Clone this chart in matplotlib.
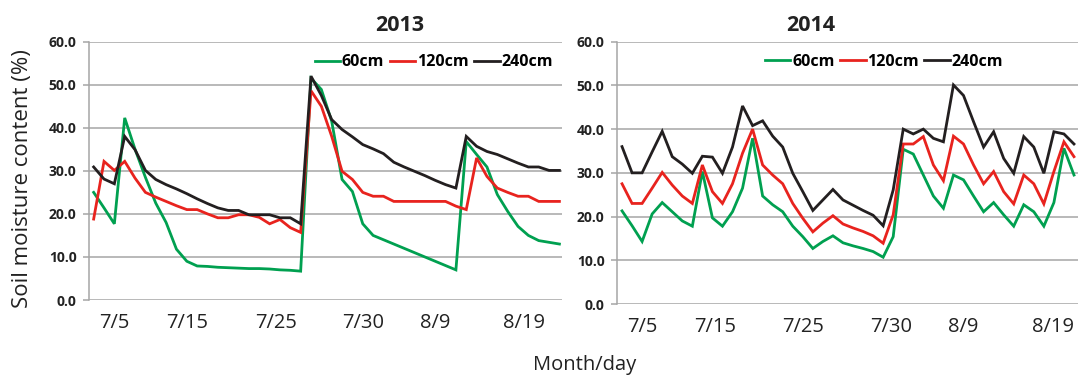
import matplotlib
matplotlib.use('Agg')
import matplotlib.pyplot as plt
import numpy as np

plt.rcParams['font.family'] = ['Open Sans', 'DejaVu Sans']

# teor de umidade (%) por profundidade, 46 leituras por ano
umid_60_2013 = [25.0, 21.4, 17.7, 42.3, 35.0, 28.5, 22.5, 18.0, 11.8, 9.0,
                7.9, 7.8, 7.6, 7.5, 7.4, 7.3, 7.3, 7.2, 7.0, 6.9,
                6.7, 51.5, 48.9, 41.5, 28.0, 25.2, 17.7, 15.0, 14.0, 13.0,
                12.0, 11.0, 10.0, 9.0, 8.0, 7.0, 36.8, 33.8, 30.9, 24.5,
                20.6, 17.1, 15.0, 13.8, 13.4, 13.0]
umid_120_2013 = [18.8, 32.2, 30.1, 32.2, 28.3, 25.0, 23.9, 22.9, 21.9, 21.0,
                 21.0, 20.0, 19.1, 19.1, 19.8, 19.8, 19.2, 17.7, 18.7, 16.8,
                 15.7, 48.6, 45.0, 38.0, 29.9, 28.0, 25.0, 24.1, 24.1, 22.9,
                 22.9, 22.9, 22.9, 22.9, 22.9, 21.8, 21.0, 33.0, 28.7, 26.0,
                 25.0, 24.1, 24.1, 22.9, 22.9, 22.9]
umid_240_2013 = [30.9, 28.1, 27.0, 38.0, 34.9, 30.1, 28.0, 26.8, 25.8, 24.7,
                 23.5, 22.4, 21.4, 20.8, 20.8, 19.8, 19.8, 19.8, 19.1, 19.1,
                 17.7, 52.0, 47.5, 41.9, 39.6, 37.9, 36.1, 35.1, 34.0, 32.0,
                 30.9, 29.9, 28.9, 27.8, 26.8, 26.0, 38.0, 35.7, 34.5, 33.8,
                 32.8, 31.8, 30.9, 30.9, 30.1, 30.1]

umid_60_2014 = [21.3, 17.9, 14.3, 20.6, 23.2, 21.1, 19.0, 17.8, 30.3, 19.7,
                17.8, 21.1, 26.5, 37.9, 24.7, 22.7, 21.1, 17.8, 15.4, 12.7,
                14.3, 15.6, 14.0, 13.3, 12.7, 12.0, 10.7, 15.4, 35.4, 34.3,
                29.5, 24.7, 21.9, 29.5, 28.4, 24.7, 21.1, 23.2, 20.4, 17.8,
                22.7, 21.1, 17.8, 23.2, 35.6, 29.5]
umid_120_2014 = [27.5, 23.0, 23.0, 26.5, 30.1, 27.2, 24.7, 23.0, 31.8, 25.7,
                 23.0, 27.5, 34.5, 40.0, 31.8, 29.5, 27.5, 23.0, 19.6, 16.5,
                 18.5, 20.2, 18.3, 17.4, 16.6, 15.6, 13.9, 20.4, 36.6, 36.6,
                 38.3, 31.8, 28.2, 38.4, 36.6, 31.8, 27.5, 30.3, 25.7, 22.9,
                 29.5, 27.5, 22.9, 30.3, 37.1, 33.7]
umid_240_2014 = [36.0, 30.0, 30.0, 34.8, 39.5, 33.7, 32.0, 29.9, 33.8, 33.6,
                 29.9, 35.9, 45.3, 40.8, 41.9, 38.4, 35.9, 29.9, 25.7, 21.4,
                 23.8, 26.2, 23.8, 22.6, 21.4, 20.3, 17.9, 26.1, 40.0, 38.9,
                 40.0, 37.9, 37.1, 50.1, 47.7, 41.7, 35.9, 39.4, 33.3, 29.9,
                 38.3, 35.9, 29.9, 39.4, 38.9, 36.6]

rotulos_data = ['7/5', '7/15', '7/25', '7/30', '8/9', '8/19']
pos_rotulos_2013 = [2, 9, 17.6, 26, 33, 41.6]
pos_rotulos_2014 = [2, 9.3, 18, 26.8, 34, 42.9]

profundidades = ['60cm', '120cm', '240cm']
cores = ['#00A050', '#E8231E', '#231F20']
COR_GRADE = '#A6A6A6'


def montar_painel(ax, series, titulo, pos_rotulos, x_titulo, leg_xy, xlim):
    x = np.arange(len(series[0]))
    for serie, nome, cor in zip(series, profundidades, cores):
        ax.plot(x, serie, color=cor, lw=2.0, label=nome, solid_joinstyle='miter')

    ax.set_ylim(0, 60)
    ax.set_yticks(np.arange(0, 61, 10))
    ax.set_yticklabels([f'{v:.1f}' for v in range(0, 61, 10)],
                       fontweight='bold', fontsize=10, color='#222222')
    ax.set_xlim(*xlim)
    ax.set_xticks(pos_rotulos)
    ax.set_xticklabels(rotulos_data, fontsize=14.5, color='#222222')

    ax.grid(axis='y', color=COR_GRADE, lw=1.1)
    ax.set_axisbelow(True)
    for lado in ['top', 'right', 'bottom']:
        ax.spines[lado].set_visible(False)
    ax.spines['left'].set_color(COR_GRADE)
    ax.spines['left'].set_linewidth(1.1)
    ax.tick_params(axis='y', length=4, width=1.1, color=COR_GRADE, pad=5)
    ax.tick_params(axis='x', length=0, pad=9)

    ax.set_title(titulo, fontsize=15.5, fontweight='bold', x=x_titulo, pad=8,
                 color='#222222')
    ax.legend(loc='center', bbox_to_anchor=leg_xy, ncol=3, frameon=False,
              handlelength=1.6, handletextpad=0.1,
              columnspacing=0.35, borderpad=0,
              prop={'weight': 'bold', 'size': 11.5})


fig = plt.figure(figsize=(10.82, 3.76), dpi=100)
ax1 = fig.add_axes([89 / 1082, 76 / 376, 473 / 1082, 258.3 / 376])
ax2 = fig.add_axes([617 / 1082, 72 / 376, 461 / 1082, 262.3 / 376])

montar_painel(ax1, [umid_60_2013, umid_120_2013, umid_240_2013], '2013',
              pos_rotulos_2013, 0.657, (0.729, 0.921), (-0.45, 45.25))
montar_painel(ax2, [umid_60_2014, umid_120_2014, umid_240_2014], '2014',
              pos_rotulos_2014, 0.42, (0.579, 0.923), (-0.5, 45.4))

fig.text(0.021, 0.525, 'Soil moisture content (%)', rotation=90,
         ha='center', va='center', fontsize=16, color='#222222')
fig.text(0.54, 0.03, 'Month/day', ha='center', va='center', fontsize=14.5,
         color='#222222')

fig.savefig('out.png', dpi=100)
